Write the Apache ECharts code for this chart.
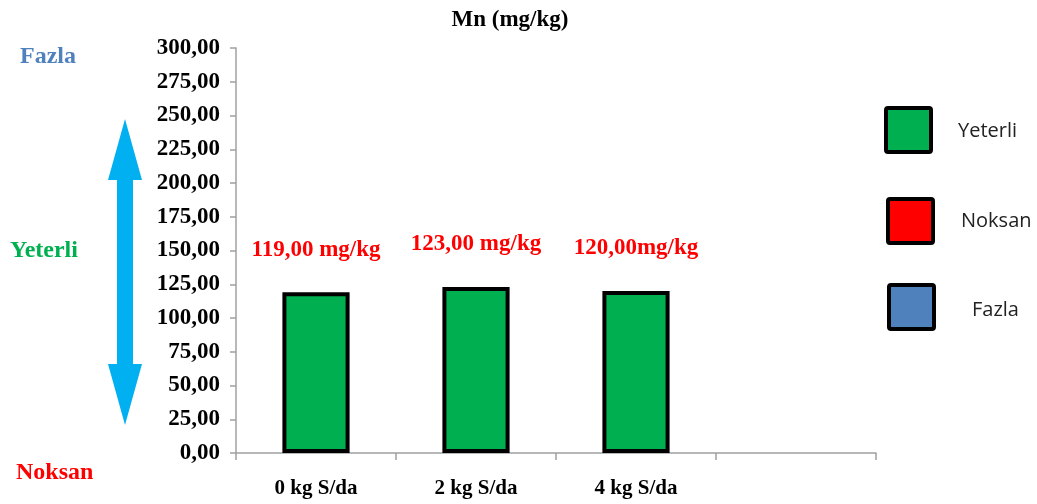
<!DOCTYPE html>
<html><head><meta charset="utf-8">
<script src="https://cdn.jsdelivr.net/npm/echarts@6/dist/echarts.min.js"></script>
<style>html,body{margin:0;padding:0;background:#fff}#c{width:1037px;height:504px}</style>
</head><body><div id="c"></div>
<script>
var categories = ['0 kg S/da', '2 kg S/da', '4 kg S/da', ''];
var values = [119, 123, 120, null];
var valueLabels = ['119,00 mg/kg', '123,00 mg/kg', '120,00mg/kg', ''];
var legendNames = ['Yeterli', 'Noksan', 'Fazla'];
var legendColors = ['#00B050', '#FF0000', '#4F81BD'];
var sideLabels = ['Fazla', 'Yeterli', 'Noksan'];
var sideColors = ['#4F81BD', '#00B050', '#FF0000'];

(function () {
var chart = echarts.init(document.getElementById('c'));
var serif = '"Liberation Serif", "Times New Roman", serif';

var graphics = [];
var sidePos = [[20, 57], [10, 251], [16, 473]];
sideLabels.forEach(function (t, i) {
  graphics.push({type: 'text', x: sidePos[i][0], y: sidePos[i][1],
    style: {text: t, fill: sideColors[i], font: 'bold 24px ' + serif, verticalAlign: 'middle'}});
});
var cx = 125, aTop = 119, aBot = 425, sw = 8, hw = 17, hh = 61;
graphics.push({type: 'polygon', shape: {points: [
  [cx, aTop], [cx + hw, aTop + hh], [cx + sw, aTop + hh], [cx + sw, aBot - hh], [cx + hw, aBot - hh],
  [cx, aBot], [cx - hw, aBot - hh], [cx - sw, aBot - hh], [cx - sw, aTop + hh], [cx - hw, aTop + hh]
]}, style: {fill: '#00B0F0'}});
var legPos = [[886, 108, 958, 131], [888, 199, 961, 221], [889, 285, 972, 310]];
legendNames.forEach(function (n, i) {
  var p = legPos[i];
  graphics.push({type: 'rect', shape: {x: p[0], y: p[1], width: 45, height: 44, r: 2},
    style: {fill: legendColors[i], stroke: '#000', lineWidth: 4}});
  graphics.push({type: 'text', x: p[2], y: p[3],
    style: {text: n, fill: '#222', verticalAlign: 'middle',
      font: '20px "Open Sans", "Liberation Sans", sans-serif'}});
});

chart.setOption({
  animation: false,
  title: {text: 'Mn (mg/kg)', left: 505, top: 4, textAlign: 'center',
    textStyle: {fontFamily: serif, fontWeight: 'bold', fontSize: 23, color: '#000'}},
  grid: {left: 236, right: 161, top: 48, bottom: 51, containLabel: false},
  xAxis: {type: 'category', data: categories,
    axisLine: {lineStyle: {color: '#A0A0A0', width: 1.5}},
    axisTick: {show: true, length: 7, lineStyle: {color: '#A0A0A0', width: 1.5}},
    axisLabel: {margin: 25, color: '#000', fontFamily: serif, fontWeight: 'bold', fontSize: 21}},
  yAxis: {type: 'value', min: 0, max: 300, interval: 25,
    splitLine: {show: false},
    axisLine: {show: true, lineStyle: {color: '#A0A0A0', width: 1.5}},
    axisTick: {show: true, length: 6, lineStyle: {color: '#A0A0A0', width: 1.5}},
    axisLabel: {margin: 16, color: '#000', fontFamily: serif, fontWeight: 'bold', fontSize: 23,
      formatter: function (v) { return v.toFixed(2).replace('.', ','); }}},
  series: [{type: 'bar', data: values, barWidth: '42%',
    itemStyle: {color: '#00B050', borderColor: '#000', borderWidth: 4},
    label: {show: true, position: 'top', distance: 31, color: '#FF0000',
      fontFamily: serif, fontWeight: 'bold', fontSize: 23,
      formatter: function (p) { return valueLabels[p.dataIndex]; }}}],
  graphic: graphics
});
})();
</script></body></html>
